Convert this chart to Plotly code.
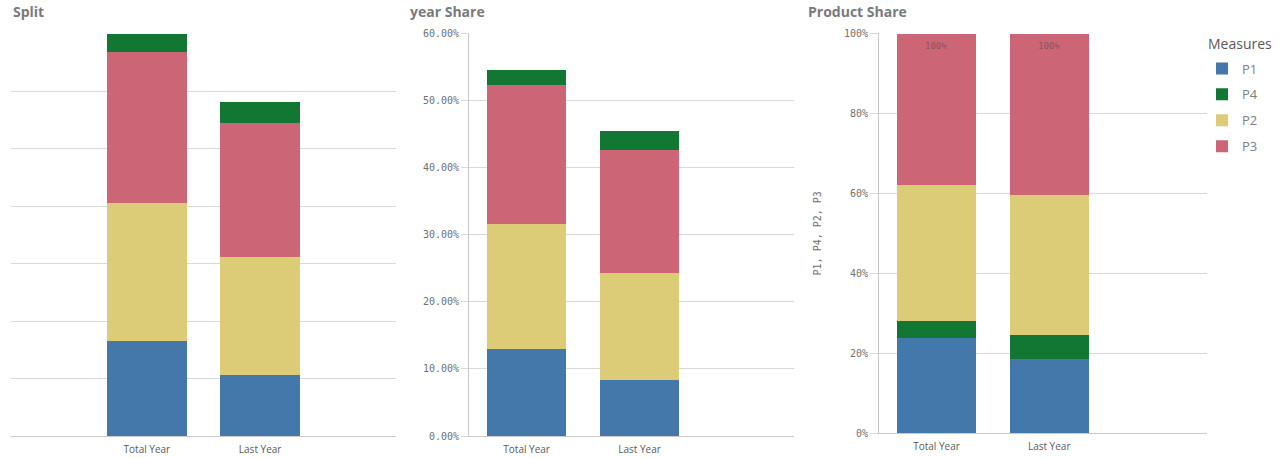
import plotly.graph_objects as go

W, H = 1287, 458

categories = ["Total Year", "Last Year"]
measures = ["P1", "P2", "P3", "P4"]
legend_order = ["P1", "P4", "P2", "P3"]
colors = {"P1": "#4477aa", "P4": "#117733", "P2": "#ddcc77", "P3": "#cc6677"}

# Split (absolute units, axis labels hidden)
split_p1 = [1.66, 1.06]
split_p2 = [2.39, 2.05]
split_p3 = [2.64, 2.34]
split_p4 = [0.31, 0.36]

# year Share (%)
year_p1 = [12.97, 8.35]
year_p2 = [18.67, 15.95]
year_p3 = [20.72, 18.37]
year_p4 = [2.29, 2.78]

# Product Share (%)
prod_p1 = [23.8, 18.5]
prod_p4 = [4.2, 6.1]
prod_p2 = [34.25, 35.07]
prod_p3 = [37.75, 40.33]

split = {"P1": split_p1, "P2": split_p2, "P3": split_p3, "P4": split_p4}
year = {"P1": year_p1, "P2": year_p2, "P3": year_p3, "P4": year_p4}
prod = {"P1": prod_p1, "P4": prod_p4, "P2": prod_p2, "P3": prod_p3}

titles = ["Split", "year Share", "Product Share"]
y_axis_title = "P1, P4, P2, P3"
legend_title = "Measures"


def px(x):
    return x / W


def py(y):
    return 1 - y / H


GRID = "#d9d9d9"
AXIS = "#c8c8c8"
TICKC = "#707070"
MONO = "DejaVu Sans Mono"
SANS = "Open Sans"

fig = go.Figure()

for m in measures:
    fig.add_trace(go.Bar(x=categories, y=split[m], name=m, marker_color=colors[m],
                         marker_line_width=0, width=0.7, xaxis="x", yaxis="y",
                         showlegend=False))
for m in measures:
    fig.add_trace(go.Bar(x=categories, y=year[m], name=m, marker_color=colors[m],
                         marker_line_width=0, width=0.7, xaxis="x2", yaxis="y2",
                         showlegend=False))
for m in legend_order:
    fig.add_trace(go.Bar(x=categories, y=prod[m], name=m, marker_color=colors[m],
                         marker_line_width=0, width=0.7, xaxis="x3", yaxis="y3",
                         showlegend=True, legendgroup=m))

xfont = dict(family=SANS, size=10, color="#595959")
yfont = dict(family=MONO, size=10, color=TICKC)

common_x = dict(type="category", showgrid=False, showline=True, linecolor=AXIS,
                linewidth=1, ticks="", tickfont=xfont, fixedrange=True,
                automargin=False, zeroline=False, ticklabelstandoff=4)

layout = dict(
    template="none",
    width=W, height=H, barmode="stack", autosize=False,
    margin=dict(l=0, r=0, t=0, b=0, pad=0),
    paper_bgcolor="white", plot_bgcolor="white",
    font=dict(family=SANS, color="#595959"),
    xaxis=dict(domain=[px(11), px(396)], range=[-1.2, 2.2], anchor="y", **common_x),
    yaxis=dict(domain=[py(436), py(33.3)], range=[0, 7.01], tick0=0, dtick=1,
               showgrid=True, gridcolor=GRID, gridwidth=1, showticklabels=False,
               ticks="", zeroline=False, showline=False, anchor="x",
               fixedrange=True, automargin=False),
    xaxis2=dict(domain=[px(469), px(794)], range=[-0.51, 2.367], anchor="y2", **common_x),
    yaxis2=dict(domain=[py(436), py(33.3)], range=[0, 60.05], tick0=0, dtick=10,
                ticksuffix="%", tickformat=".2f",
                showgrid=True, gridcolor=GRID, gridwidth=1, tickfont=yfont,
                ticks="outside", ticklen=7, tickcolor=GRID,
                zeroline=False, showline=True, linecolor=AXIS, anchor="x2",
                fixedrange=True, automargin=False),
    xaxis3=dict(domain=[px(879), px(1207)], range=[-0.51, 2.4], anchor="y3", **common_x),
    yaxis3=dict(domain=[py(433.3), py(33.3)], range=[0, 100.08], tick0=0, dtick=20,
                ticksuffix="%", tickformat="d",
                showgrid=True, gridcolor=GRID, gridwidth=1, tickfont=yfont,
                ticks="outside", ticklen=8, tickcolor=GRID,
                zeroline=False, showline=True, linecolor=AXIS, anchor="x3",
                title=dict(text=y_axis_title, font=dict(family=MONO, size=10, color=TICKC),
                           standoff=20),
                fixedrange=True, automargin=False),
    legend=dict(x=px(1202), y=py(53.5), xanchor="left", yanchor="top",
                font=dict(family=SANS, size=13, color="#808080"),
                tracegroupgap=6, itemclick=False, itemdoubleclick=False,
                bgcolor="rgba(0,0,0,0)", borderwidth=0),
    showlegend=True,
)
fig.update_layout(**layout)

title_x = [11, 408, 806]
for t, x in zip(titles, title_x):
    fig.add_annotation(text="<b>%s</b>" % t, x=px(x), y=py(12), xref="paper", yref="paper",
                       xanchor="left", yanchor="middle", showarrow=False,
                       font=dict(family=SANS, size=14, color="#7a7a7a"))

fig.add_annotation(text=legend_title, x=px(1206), y=py(43), xref="paper", yref="paper",
                   xanchor="left", yanchor="middle", showarrow=False,
                   font=dict(family=SANS, size=14, color="#595959"))

# total labels inside product share bars
for i, c in enumerate(categories):
    total = sum(prod[m][i] for m in legend_order)
    fig.add_annotation(text="%d%%" % round(total), x=c, y=total, xref="x3", yref="y3",
                       yanchor="top", yshift=-5, showarrow=False,
                       font=dict(family=MONO, size=9, color="#8a5560"))

fig.write_html("out.html", config={"displayModeBar": False},
               post_script="document.body.style.margin='0';document.body.style.overflow='hidden';")
